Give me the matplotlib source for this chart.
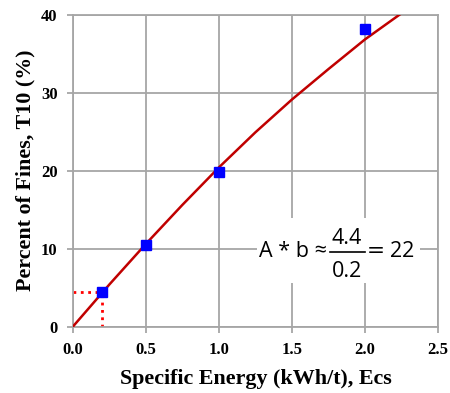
import numpy as np
import matplotlib
matplotlib.use('Agg')
import matplotlib.pyplot as plt
from matplotlib.patches import Rectangle

# measured points
energy = [0.2, 0.5, 1.0, 2.0]
t10 = [4.4, 10.4, 19.8, 38.1]

# fitted curve
curve_x = [0.0, 0.25, 0.5, 0.75, 1.0, 1.25, 1.5, 1.75, 2.0, 2.25, 2.3]
curve_y = [0.0, 5.4, 10.6, 15.6, 20.4, 24.9, 29.1, 33.0, 36.8, 40.15, 40.8]

xticks = [0.0, 0.5, 1.0, 1.5, 2.0, 2.5]
yticks = [0, 10, 20, 30, 40]

fig = plt.figure(figsize=(4.5, 3.93), dpi=100)
ax = fig.add_axes([0.162, 0.169, 0.811, 0.794])

ax.plot(curve_x, curve_y, color='#c00000', lw=1.8, zorder=3)
ax.plot([0, 0.2], [4.4, 4.4], color='red', ls=':', lw=2, zorder=2)
ax.plot([0.2, 0.2], [0, 4.4], color='red', ls=':', lw=2, zorder=2)
ax.plot(energy, t10, 's', color='blue', ms=6.5, zorder=4)

ax.set_xlim(0, 2.5)
ax.set_ylim(0, 40)
ax.set_xticks(xticks)
ax.set_yticks(yticks)
ax.set_xticklabels(['%.1f' % v for v in xticks])
ax.grid(True, color='#a6a6a6', lw=1.3)
ax.set_axisbelow(True)
for s in ax.spines.values():
    s.set_color('#a6a6a6')
    s.set_linewidth(1.3)
ax.tick_params(colors='#a6a6a6', length=4, width=1.3, labelcolor='black')
ax.tick_params(axis='y', pad=7)
ax.tick_params(axis='x', pad=7)
for lab in ax.get_xticklabels() + ax.get_yticklabels():
    lab.set_fontfamily('Liberation Serif')
    lab.set_fontweight('bold')
    lab.set_fontsize(12)

ax.set_xlabel('Specific Energy (kWh/t), Ecs', fontfamily='Liberation Serif',
              fontweight='bold', fontsize=15.8, labelpad=8)
ax.set_ylabel('Percent of Fines, T10 (%)', fontfamily='Liberation Serif',
              fontweight='bold', fontsize=15.8, labelpad=4)

# equation box
ax.add_patch(Rectangle((1.26, 5.6), 1.12, 8.3, facecolor='white',
                       edgecolor='none', zorder=2))
fam = ['Open Sans', 'DejaVu Sans']
ax.text(1.508, 8.94, 'A * b \u2248', family=fam, fontsize=15.5, ha='center',
        va='baseline', zorder=5)
ax.text(1.875, 10.6, '4.4', family=fam, fontsize=15.5, ha='center',
        va='baseline', zorder=5)
ax.plot([1.761, 2.001], [9.62, 9.62], color='black', lw=1.2, zorder=5)
ax.text(1.875, 6.37, '0.2', family=fam, fontsize=15.5, ha='center',
        va='baseline', zorder=5)
ax.text(2.075, 8.94, '=', family='DejaVu Sans', fontsize=15.5, ha='center',
        va='baseline', zorder=5)
ax.text(2.255, 8.94, '22', family=fam, fontsize=15.5, ha='center',
        va='baseline', zorder=5)

fig.savefig('out.png', dpi=100)
